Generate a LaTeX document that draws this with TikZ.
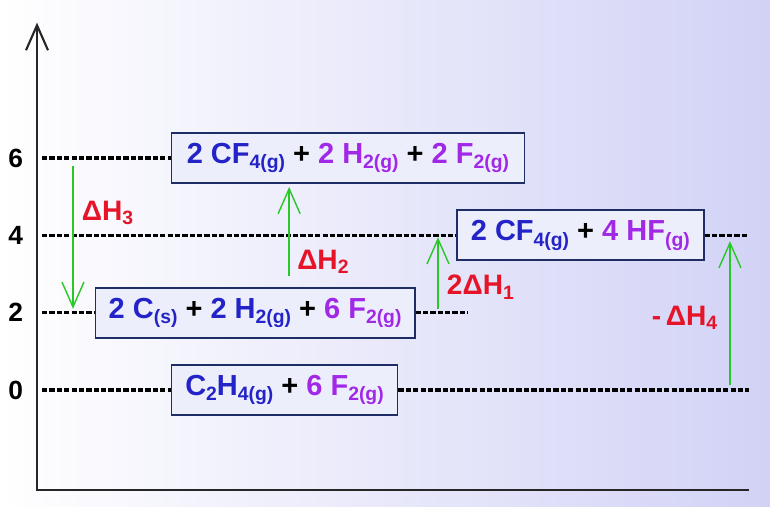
\documentclass[tikz,border=0pt]{standalone}
\usepackage{fontspec}
\setmainfont{Liberation Sans}
\usetikzlibrary{arrows.meta}

\definecolor{bgright}{RGB}{210,210,246}
\definecolor{boxfill}{RGB}{236,238,252}
\definecolor{boxline}{RGB}{30,45,100}
\definecolor{chblue}{RGB}{35,35,200}
\definecolor{chpurple}{RGB}{160,40,230}
\definecolor{dhred}{RGB}{230,20,40}
\definecolor{arrgreen}{RGB}{40,200,40}

\newcommand{\chsub}[1]{\raisebox{-0.35ex}{\fontsize{11}{12}\selectfont #1}}
\newcommand{\dhsub}[1]{\raisebox{-0.3ex}{\fontsize{11}{12}\selectfont #1}}

\begin{document}
\begin{tikzpicture}[x=0.7733cm, y=0.7733cm,
    >={Straight Barb[length=5mm,width=4.4mm]},
    eqbox/.style={draw=boxline, line width=1pt, fill=boxfill, minimum height=1cm, inner xsep=6pt, font=\fontsize{16.5}{18}\selectfont\bfseries},
    lvline/.style={line width=1.8pt, dash pattern=on 3pt off 1.2pt},
    dh/.style={->, draw=arrgreen, line width=0.8pt},
    dhlab/.style={text=dhred, font=\fontsize{16}{18}\selectfont\bfseries},
    ticklab/.style={anchor=east, font=\fontsize{15}{17}\selectfont\bfseries}]
        \shade[left color=white, right color=bgright] (-0.957,-3.0) rectangle (18.955,10.085);

        \node[eqbox, minimum width=7.06cm] (e6) at (8.04,6) {\textcolor{chblue}{2 CF\chsub{4(g)}} + \textcolor{chpurple}{2 H\chsub{2(g)}} + \textcolor{chpurple}{2 F\chsub{2(g)}}};
        \node[eqbox, minimum width=4.94cm] (e4) at (14.05,4) {\textcolor{chblue}{2 CF\chsub{4(g)}} + \textcolor{chpurple}{4 HF\chsub{(g)}}};
        \node[eqbox, minimum width=6.38cm] (e2) at (5.64,2) {\textcolor{chblue}{2 C\chsub{(s)}} + \textcolor{chblue}{2 H\chsub{2(g)}} + \textcolor{chpurple}{6 F\chsub{2(g)}}};
        \node[eqbox, minimum width=4.52cm] (e0) at (6.4,0) {\textcolor{chblue}{C\chsub{2}H\chsub{4(g)}} + \textcolor{chpurple}{6 F\chsub{2(g)}}};

        \node[ticklab] (n6) at (-0.2,6) {6};
        \node[ticklab] (n4) at (-0.2,4) {4};
        \node[ticklab] (n2) at (-0.2,2) {2};
        \node[ticklab] (n0) at (-0.2,0) {0};

        \coordinate (orig) at (0,-2.58);
        \coordinate (ytop) at (0,9.5);
        \coordinate (xend) at (18.4,-2.58);
        \draw[<-, line width=1.2pt, draw=black!85] (ytop) -- (orig) -- (xend);

        \coordinate (l6a) at (0.13,6);
        \coordinate (l4a) at (0.13,4);
        \coordinate (l4b) at (18.4,4);
        \coordinate (l2a) at (0.13,2);
        \coordinate (l2b) at (11.15,2);
        \coordinate (l0a) at (0.13,0);
        \coordinate (l0b) at (18.4,0);
        \draw[lvline] (l6a) -- (e6.west);
        \draw[lvline] (l4a) -- (e4.west);
        \draw[lvline] (e4.east) -- (l4b);
        \draw[lvline] (l2a) -- (e2.west);
        \draw[lvline] (e2.east) -- (l2b);
        \draw[lvline] (l0a) -- (e0.west);
        \draw[lvline] (e0.east) -- (l0b);

        \coordinate (h3a) at (0.93,5.8);
        \coordinate (h3b) at (0.93,2.1);
        \coordinate (h2a) at (6.52,2.95);
        \coordinate (h2b) at (6.52,5.25);
        \coordinate (h1a) at (10.37,2.1);
        \coordinate (h1b) at (10.37,3.95);
        \coordinate (h4a) at (17.92,0.13);
        \coordinate (h4b) at (17.92,3.85);
        \draw[dh] (h3a) -- (h3b);
        \draw[dh] (h2a) -- (h2b);
        \draw[dh] (h1a) -- (h1b);
        \draw[dh] (h4a) -- (h4b);

        \node[dhlab, anchor=west] (dh3) at (1.0,4.58) {ΔH\dhsub{3}};
        \node[dhlab, anchor=west] (dh2) at (6.57,3.31) {ΔH\dhsub{2}};
        \node[dhlab, anchor=west] (dh1) at (10.44,2.66) {2ΔH\dhsub{1}};
        \node[dhlab, anchor=east] (dh4) at (17.75,1.86) {-\,ΔH\dhsub{4}};
    \end{tikzpicture}
\end{document}
